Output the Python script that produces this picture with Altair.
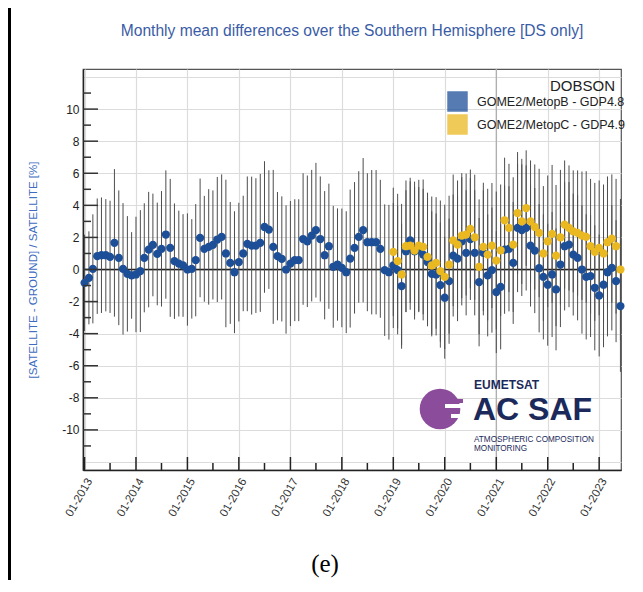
import altair as alt
import pandas as pd

# ---------------- data ----------------
blue_start = "2013-01-01"
blue_mean = [
    -0.83, -0.52, 0.04, 0.83, 0.89, 0.89, 0.79, 1.66, 0.73, 0.04,
    -0.27, -0.37, -0.31, -0.10, 0.73, 1.24, 1.53, 0.97, 1.29, 2.18,
    1.35, 0.52, 0.37, 0.25, 0.00, 0.04, 0.58, 1.97, 1.29, 1.41,
    1.53, 1.87, 2.03, 1.00, 0.41, -0.17, 0.46, 1.00, 1.60, 1.49,
    1.49, 1.66, 2.65, 2.49, 1.41, 0.83, 0.66, 0.00, 0.37, 0.58,
    0.58, 1.90, 1.76, 2.11, 2.45, 1.90, 0.89, 1.45, 0.17, 0.31,
    0.10, -0.17, 0.68, 1.35, 2.03, 2.45, 1.70, 1.70, 1.70, 1.29,
    -0.04, -0.17, 0.25, -0.04, -1.04, 1.14, 1.82, 1.14, 1.24, 0.93,
    0.46, -0.27, -0.31, -0.97, -1.76, -0.73, 0.87, 0.68, 1.76, 1.04,
    1.90, 1.04, -0.79, 1.04, -0.37, -0.04, -1.41, -1.08, 1.24, 1.29,
    0.41, 2.59, 2.45, 2.59, 1.49, 1.18, 0.08, -0.46, -0.95, -0.31,
    -1.24, 0.31, 1.45, 1.55, 0.93, 0.73, 0.00, -0.46, -0.41, -1.14,
    -1.62, -0.95, -0.17, 0.10, -0.73, -2.28,
]
blue_hw = [
    3.0, 2.9, 3.4, 3.6, 3.6, 3.5, 3.5, 4.6, 4.2, 4.1,
    3.6, 2.7, 3.6, 3.8, 3.4, 3.6, 3.2, 3.2, 3.6, 4.0,
    4.3, 3.6, 3.3, 3.2, 3.5, 3.1, 3.5, 3.7, 3.3, 3.6,
    3.4, 3.9, 3.9, 4.6, 3.8, 3.8, 3.7, 3.6, 4.2, 4.3,
    4.2, 4.3, 4.1, 3.7, 4.8, 4.0, 3.9, 4.0, 3.9, 3.8,
    3.8, 4.1, 4.1, 4.1, 4.2, 3.9, 4.0, 3.9, 3.8, 3.5,
    3.7, 3.8, 4.3, 4.1, 4.1, 4.5, 4.3, 4.5, 4.5, 4.3,
    4.1, 4.2, 3.9, 4.0, 3.9, 3.8, 3.9, 4.0, 3.9, 4.1,
    4.0, 3.9, 3.8, 3.9, 3.8, 3.9, 3.8, 3.9, 4.0, 3.9,
    3.8, 3.9, 4.0, 3.9, 3.8, 3.9, 3.8, 3.9, 4.0, 3.9,
    3.8, 4.0, 4.1, 3.9, 3.8, 3.9, 4.0, 3.9, 3.8, 3.9,
    3.8, 3.9, 4.0, 3.9, 3.8, 3.9, 4.0, 3.9, 3.8, 3.9,
    3.8, 3.9, 4.0, 3.9, 3.8, 4.1,
]
yellow_start = "2019-01-01"
yellow_mean = [
    1.10, 0.52, -0.31, 1.45, 1.49, 1.18, 1.49, 1.41, 0.79, 0.25,
    0.41, -0.10, -0.46, 0.30, 1.82, 1.55, 2.11, 2.18, 2.53, 2.01,
    0.17, 1.41, 0.93, 1.49, 0.56, 1.20, 3.07, 2.59, 1.55, 3.52,
    3.00, 3.83, 3.00, 2.65, 2.28, 1.00, 1.76, 2.22, 0.87, 2.01,
    2.80, 2.59, 2.38, 2.28, 2.11, 2.03, 1.45, 1.10, 1.35, 1.00,
    1.70, 1.93, 1.45, 0.00,
]
yellow_hw = [
    4.0, 4.2, 4.4, 4.1, 4.0, 4.3, 4.1, 4.2, 4.0, 4.3,
    4.1, 4.4, 4.5, 4.3, 4.1, 4.0, 3.9, 3.8, 3.7, 3.9,
    4.2, 4.0, 4.1, 3.9, 4.3, 4.1, 3.9, 4.0, 4.2, 3.8,
    3.9, 3.6, 3.8, 3.9, 4.0, 4.2, 4.1, 4.3, 4.4, 4.2,
    4.0, 3.9, 3.8, 3.9, 4.0, 4.1, 4.2, 4.3, 4.2, 4.3,
    4.1, 4.0, 4.2, 4.4,
]
series_names = ["GOME2/MetopB - GDP4.8", "GOME2/MetopC - GDP4.9"]
series_colors = ["#1c4f98", "#eab820"]

year_ticks = [f"{y}-01-01" for y in range(2013, 2024)]
half_ticks = [f"{y}-07-01" for y in range(2013, 2023)]
marked_year = ["2021-01-01"]
y_major = [-10, -8, -6, -4, -2, 0, 2, 4, 6, 8, 10]
y_minor = [-11, -9, -7, -5, -3, -1, 1, 3, 5, 7, 9, 11]
y_grid = [-12, -10, -8, -6, -4, -2, 0, 2, 4, 6, 8, 10, 12]

# ---------------- tables ----------------
def series_df(start, mean, hw, name):
    dates = pd.date_range(start, periods=len(mean), freq="MS").strftime("%Y-%m-%d")
    return pd.DataFrame({
        "date": dates,
        "mean": mean,
        "lo": [m - h for m, h in zip(mean, hw)],
        "hi": [m + h for m, h in zip(mean, hw)],
        "series": name,
    })

df = pd.concat([
    series_df(blue_start, blue_mean, blue_hw, series_names[0]),
    series_df(yellow_start, yellow_mean, yellow_hw, series_names[1]),
], ignore_index=True)

W, H = 538, 401
FONT = "Liberation Sans"
YTITLE = "[SATELLITE - GROUND] / SATELLITE [%]"

x_scale = alt.Scale(
    type="utc",
    domain=[alt.DateTime(year=2012, month=12, date=21, utc=True),
            alt.DateTime(year=2023, month=6, date=5, utc=True)],
)
y_scale = alt.Scale(domain=[-12.5, 12.5], nice=False, zero=False)

x_axis = alt.Axis(
    values=[alt.DateTime(year=y, month=1, date=1, utc=True) for y in range(2013, 2024)],
    format="%m-%Y", labelAngle=300, labelAlign="right", labelBaseline="middle",
    labelPadding=9, labelOffset=5, tickSize=0, domain=True, domainColor="#222",
    domainWidth=1.5, grid=True, gridColor="#dcdcdc", gridWidth=1.2,
    labelFont=FONT, labelFontSize=11.5, labelColor="#333", title=None,
)
y_axis = alt.Axis(
    values=y_grid, labelExpr="abs(datum.value) > 11 ? '' : toString(datum.value)",
    tickSize=0, labelPadding=4, domain=True, domainColor="#222", domainWidth=1.5,
    grid=True, gridColor="#dcdcdc", gridWidth=1.2,
    labelFont=FONT, labelFontSize=12, labelColor="#222",
    title=YTITLE, titleX=-50, titleY=H / 2,
    titleAngle=270, titleAlign="center", titleBaseline="middle",
    titleFont=FONT, titleFontSize=11.5, titleFontWeight="normal", titleColor="#3d6cc0",
)


def X(field="date"):
    return alt.X(f"{field}:T", scale=x_scale, axis=x_axis, title=None)


def Y(field):
    return alt.Y(f"{field}:Q", scale=y_scale, axis=y_axis, title=YTITLE)


mark21 = alt.Chart(pd.DataFrame({"date": marked_year})).mark_rule(color="#aaaaaa", strokeWidth=1.2).encode(x=X())

zero = alt.Chart(pd.DataFrame({"v": [0]})).mark_rule(color="#222", strokeWidth=1.4).encode(y=Y("v"))

bars = alt.Chart(df).mark_rule(color="#4d4d4d", strokeWidth=1).encode(
    x=X(), y=Y("lo"), y2="hi:Q"
)

points = alt.Chart(df).mark_circle(size=68, opacity=1).encode(
    x=X(), y=Y("mean"),
    color=alt.Color("series:N", scale=alt.Scale(domain=series_names, range=series_colors),
                    legend=alt.Legend(
                        title=None, orient="none", legendX=364, legendY=22,
                        symbolType="square", symbolSize=420, symbolOpacity=0.75,
                        symbolStrokeWidth=0, labelFont=FONT, labelFontSize=12.5,
                        labelColor="#222", labelOffset=9, rowPadding=2, padding=0,
                    )),
)

ymaj = alt.Chart(pd.DataFrame({"v": y_major})).mark_rule(color="#333", strokeWidth=1.5).encode(
    y=Y("v"), x=alt.value(0), x2=alt.value(15))
ymin = alt.Chart(pd.DataFrame({"v": y_minor})).mark_rule(color="#333", strokeWidth=1.5).encode(
    y=Y("v"), x=alt.value(0), x2=alt.value(8))
xmaj = alt.Chart(pd.DataFrame({"date": year_ticks})).mark_rule(color="#222", strokeWidth=1.5).encode(
    x=X(), y=alt.value(H), y2=alt.value(H - 13))
xmin = alt.Chart(pd.DataFrame({"date": half_ticks})).mark_rule(color="#222", strokeWidth=1.5).encode(
    x=X(), y=alt.value(H), y2=alt.value(H - 7))

# texts
def label(text, x, y, **kw):
    return alt.Chart(pd.DataFrame({"t": [text]})).mark_text(**kw).encode(
        text="t:N", x=alt.value(x), y=alt.value(y))

title = label("Monthly mean differences over the Southern Hemisphere [DS only]", W / 2, -38,
              font=FONT, fontSize=15.6, color="#3a5ca6", align="center", baseline="middle")
dobson = label("DOBSON", 532, 17, font=FONT, fontSize=15, color="#222", align="right", baseline="middle")
panel = label("(e)", 242, 495, font="Liberation Serif", fontSize=25, color="#000",
              align="center", baseline="middle")

# logo
NAVY = "#1b2a5a"
PURPLE = "#8b4c9c"
one = pd.DataFrame({"a": [1]})
logo_circle = alt.Chart(one).mark_point(
    shape="circle", filled=True, size=1650, color=PURPLE, opacity=1).encode(
    x=alt.value(357), y=alt.value(340))
logo_cut1 = alt.Chart(one).mark_rule(color="white", strokeWidth=4).encode(
    x=alt.value(362), x2=alt.value(384), y=alt.value(337))
logo_cut2 = alt.Chart(one).mark_rule(color="white", strokeWidth=4).encode(
    x=alt.value(368), x2=alt.value(384), y=alt.value(347))
logo_bar = alt.Chart(one).mark_rule(color=PURPLE, strokeWidth=4).encode(
    x=alt.value(360), x2=alt.value(380), y=alt.value(332))
eum = label("EUMETSAT", 391, 316, font=FONT, fontSize=12, fontWeight="bold", color=NAVY,
            align="left", baseline="middle")
acsaf = label("AC SAF", 390, 341, font=FONT, fontSize=32, fontWeight="bold", color=NAVY,
              align="left", baseline="middle")
acm1 = label("ATMOSPHERIC COMPOSITION", 391, 371, font=FONT, fontSize=8.2, color=NAVY,
             align="left", baseline="middle")
acm2 = label("MONITORING", 391, 380, font=FONT, fontSize=8.2, color=NAVY,
             align="left", baseline="middle")

# page frame line on the left
frame_left = alt.Chart(one).mark_rect(color="#000").encode(
    x=alt.value(-75), x2=alt.value(-72), y=alt.value(-61), y2=alt.value(H + 110))

chart = alt.layer(
    mark21, zero, bars, points, ymaj, ymin, xmaj, xmin,
    logo_circle, logo_cut1, logo_cut2, logo_bar, eum, acsaf, acm1, acm2,
    title, dobson, panel, frame_left,
).properties(
    width=W, height=H,
    padding={"left": 75, "top": 61, "right": 14, "bottom": 110},
    autosize=alt.AutoSizeParams(type="none"),
).configure_view(stroke="#555", strokeWidth=1.2)

chart.save("out.html", embed_options={"renderer": "svg", "actions": False})
